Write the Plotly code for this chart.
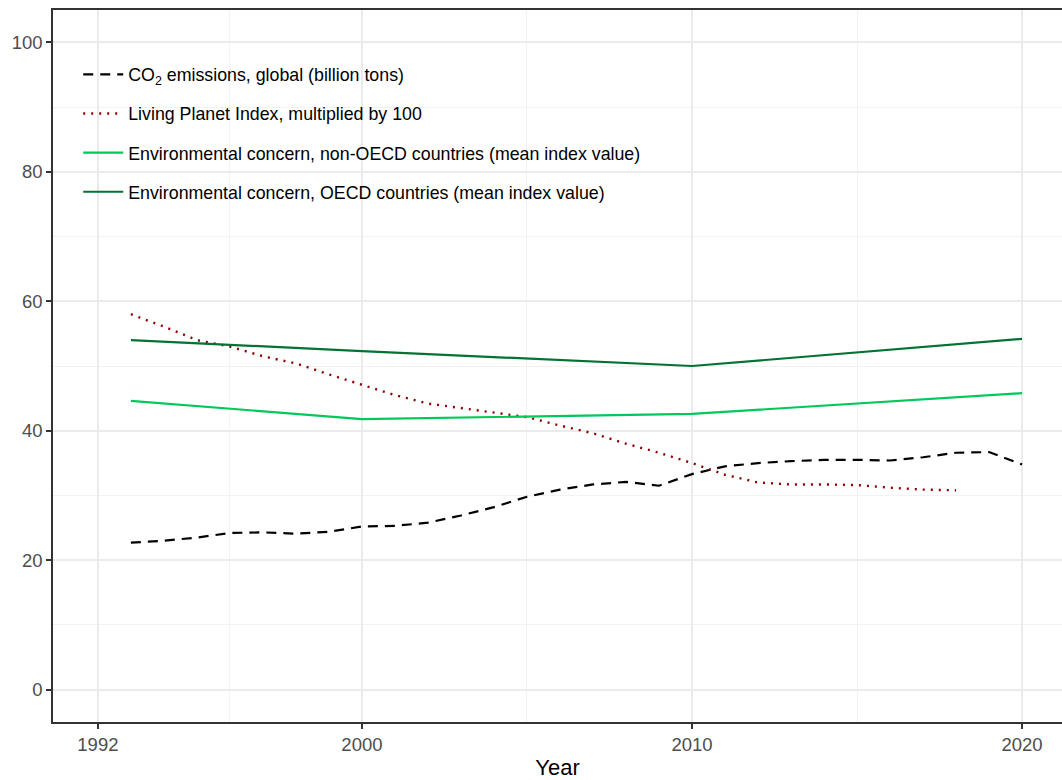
import plotly.graph_objects as go

# ---- data ----
co2_years = list(range(1993, 2021))
co2_values = [22.7, 23.0, 23.5, 24.2, 24.3, 24.1, 24.4, 25.2, 25.3, 25.8, 26.9, 28.2,
              29.8, 30.9, 31.7, 32.1, 31.5, 33.3, 34.5, 35.0, 35.3, 35.5, 35.5, 35.4,
              35.9, 36.6, 36.7, 34.8]

lpi_years = list(range(1993, 2019))
lpi_values = [58.0, 56.1, 54.0, 53.0, 51.5, 50.4, 48.7, 47.1, 45.5, 44.2, 43.5, 42.9,
              42.1, 40.8, 39.6, 38.0, 36.6, 35.0, 33.2, 32.0, 31.7, 31.7, 31.6, 31.2,
              30.9, 30.8]

survey_years = [1993, 2000, 2010, 2020]
non_oecd_values = [44.6, 41.8, 42.6, 45.8]
oecd_values = [54.0, 52.3, 50.0, 54.2]

x_ticks = [1992, 2000, 2010, 2020]
x_minor = [1996, 2005, 2015]
y_ticks = [0, 20, 40, 60, 80, 100]
y_minor = [10, 30, 50, 70, 90]

labels = [
    "CO<sub>2</sub> emissions, global (billion tons)",
    "Living Planet Index, multiplied by 100",
    "Environmental concern, non-OECD countries (mean index value)",
    "Environmental concern, OECD countries (mean index value)",
]

FONT = "Arial, Liberation Sans, sans-serif"

fig = go.Figure()
fig.add_trace(go.Scatter(x=co2_years, y=co2_values, mode="lines", name=labels[0],
                         legendgroup="a",
                         line=dict(color="black", width=2.2, dash="10px,7px")))
fig.add_trace(go.Scatter(x=lpi_years, y=lpi_values, mode="lines", name=labels[1],
                         legendgroup="b",
                         line=dict(color="#8B0000", width=2.4, dash="2px,6px")))
fig.add_trace(go.Scatter(x=survey_years, y=non_oecd_values, mode="lines", name=labels[2],
                         legendgroup="c",
                         line=dict(color="#00C85A", width=2.2)))
fig.add_trace(go.Scatter(x=survey_years, y=oecd_values, mode="lines", name=labels[3],
                         legendgroup="d",
                         line=dict(color="#037233", width=2.2)))

fig.update_layout(
    width=1062, height=780,
    margin=dict(l=53, r=0, t=10, b=58, autoexpand=False),
    paper_bgcolor="white", plot_bgcolor="white",
    font=dict(family=FONT, color="#4d4d4d", size=18),
    showlegend=True,
    legend=dict(x=0.025, y=0.935, xanchor="left", yanchor="top",
                bgcolor="rgba(255,255,255,0)", tracegroupgap=13,
                font=dict(family=FONT, size=17.8, color="black"),
                itemwidth=40),
)

fig.update_xaxes(
    range=[1990.64, 2021.21],
    tickmode="array", tickvals=x_ticks, ticktext=[str(v) for v in x_ticks],
    showgrid=True, gridcolor="#EBEBEB", gridwidth=2,
    minor=dict(tickmode="array", tickvals=x_minor, showgrid=True,
               gridcolor="#F2F2F2", gridwidth=1, ticks=""),
    showline=True, linecolor="#333333", linewidth=1.5, mirror=True,
    ticks="outside", ticklen=5, tickwidth=1.5, tickcolor="#333333",
    tickfont=dict(family=FONT, size=18.5, color="#4d4d4d"),
    title=dict(text="Year", font=dict(family=FONT, size=22, color="black"), standoff=7),
    zeroline=False, automargin=False,
)
fig.update_yaxes(
    range=[-5, 105],
    tickmode="array", tickvals=y_ticks, ticktext=[str(v) for v in y_ticks],
    showgrid=True, gridcolor="#EBEBEB", gridwidth=2,
    minor=dict(tickmode="array", tickvals=y_minor, showgrid=True,
               gridcolor="#F2F2F2", gridwidth=1, ticks=""),
    showline=True, linecolor="#333333", linewidth=1.5, mirror=False,
    ticks="outside", ticklen=5, tickwidth=1.5, tickcolor="#333333",
    tickfont=dict(family=FONT, size=18.5, color="#4d4d4d"),
    zeroline=False, automargin=False,
)

fig.write_html(
    "out.html",
    config={"displayModeBar": False},
    post_script="document.body.style.margin='0';document.body.style.overflow='hidden';",
)
